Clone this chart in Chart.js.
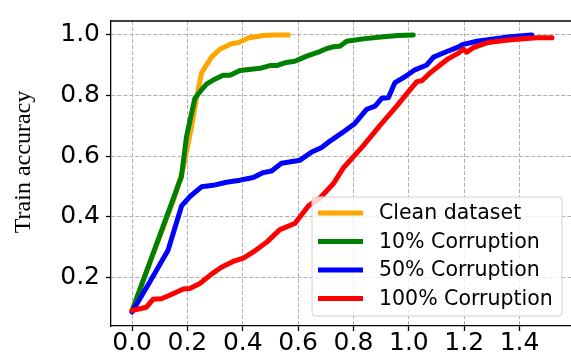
<!DOCTYPE html>
<html>
<head>
<meta charset="utf-8">
<script src="https://cdn.jsdelivr.net/npm/chart.js@4"></script>
<style>
html,body{margin:0;padding:0;background:#fff;overflow:hidden;}
#wrap{width:575px;height:360px;position:relative;}
</style>
</head>
<body>
<div id="wrap"><canvas id="trainChart"></canvas></div>
<script>
// values
const cleanX = [0, 0.05, 0.1, 0.15, 0.185, 0.215, 0.233, 0.251, 0.287, 0.317, 0.359, 0.383, 0.42, 0.474, 0.52, 0.565];
const cleanY = [0.09, 0.215, 0.335, 0.455, 0.561, 0.697, 0.791, 0.875, 0.927, 0.953, 0.971, 0.974, 0.99, 0.998, 1.0, 1.0];

const c10X = [0, 0.165, 0.178, 0.197, 0.227, 0.245, 0.269, 0.299, 0.329, 0.354, 0.39, 0.438, 0.462, 0.498, 0.522, 0.552, 0.588, 0.631, 0.673, 0.697, 0.727, 0.751, 0.775, 0.835, 0.908, 0.96, 1.016];
const c10Y = [0.09, 0.50, 0.53, 0.666, 0.791, 0.812, 0.838, 0.854, 0.867, 0.867, 0.883, 0.888, 0.89, 0.899, 0.899, 0.908, 0.913, 0.93, 0.943, 0.953, 0.961, 0.963, 0.979, 0.987, 0.994, 0.998, 1.0];

const c50X = [0, 0.064, 0.13, 0.179, 0.209, 0.251, 0.293, 0.341, 0.39, 0.438, 0.474, 0.504, 0.54, 0.607, 0.649, 0.685, 0.715, 0.757, 0.805, 0.848, 0.878, 0.902, 0.926, 0.95, 0.986, 1.022, 1.065, 1.089, 1.131, 1.173, 1.197, 1.246, 1.306, 1.366, 1.444];
const c50Y = [0.086, 0.185, 0.29, 0.436, 0.467, 0.499, 0.504, 0.514, 0.521, 0.53, 0.546, 0.551, 0.577, 0.587, 0.614, 0.629, 0.65, 0.676, 0.708, 0.755, 0.765, 0.791, 0.793, 0.843, 0.862, 0.885, 0.901, 0.927, 0.943, 0.958, 0.969, 0.979, 0.987, 0.994, 1.0];

const c100X = [0, 0.052, 0.076, 0.106, 0.154, 0.185, 0.209, 0.245, 0.287, 0.323, 0.365, 0.402, 0.444, 0.486, 0.534, 0.588, 0.637, 0.679, 0.727, 0.763, 0.835, 0.896, 0.956, 0.998, 1.029, 1.047, 1.077, 1.113, 1.143, 1.179, 1.197, 1.209, 1.233, 1.282, 1.342, 1.402, 1.463, 1.517];
const c100Y = [0.091, 0.102, 0.128, 0.13, 0.149, 0.162, 0.164, 0.18, 0.211, 0.234, 0.253, 0.264, 0.288, 0.316, 0.358, 0.378, 0.436, 0.462, 0.509, 0.561, 0.634, 0.702, 0.765, 0.812, 0.846, 0.849, 0.875, 0.901, 0.922, 0.94, 0.953, 0.943, 0.958, 0.974, 0.982, 0.987, 0.991, 0.991];

const seriesLabels = ['Clean dataset', '10% Corruption', '50% Corruption', '100% Corruption'];
const xTicks = [0.0, 0.2, 0.4, 0.6, 0.8, 1.0, 1.2, 1.4];
const yTicks = [0.2, 0.4, 0.6, 0.8, 1.0];
const yTitle = 'Train accuracy';

function pts(xs, ys) {
    return xs.map((x, i) => ({x: x, y: ys[i]}));
}

// legend drawn inside the plot, lower right, like matplotlib
const legendBox = {
    id: 'legendBox',
    afterDraw(chart) {
        const ctx = chart.ctx;
        const area = chart.chartArea;
        const w = 250, h = 119;
        const x = area.right - 11 - w;
        const y = area.bottom - 10 - h;
        ctx.save();
        ctx.globalAlpha = 0.8;
        ctx.fillStyle = '#fff';
        ctx.beginPath();
        ctx.roundRect(x, y, w, h, 3);
        ctx.fill();
        ctx.globalAlpha = 1;
        ctx.strokeStyle = '#d0d0d0';
        ctx.lineWidth = 1;
        ctx.stroke();
        ctx.font = '20.5px "DejaVu Sans"';
        ctx.textBaseline = 'middle';
        ctx.fillStyle = '#000';
        chart.data.datasets.forEach((ds, i) => {
            const cy = y + 16 + i * 28.5;
            ctx.strokeStyle = ds.borderColor;
            ctx.lineWidth = 5;
            ctx.beginPath();
            ctx.moveTo(x + 6, cy);
            ctx.lineTo(x + 51, cy);
            ctx.stroke();
            ctx.fillText(ds.label, x + 67, cy + 1);
        });
        ctx.restore();
    }
};

// top spine + rotated y title
const frameAndTitle = {
    id: 'frameAndTitle',
    afterDraw(chart) {
        const ctx = chart.ctx;
        const a = chart.chartArea;
        ctx.save();
        ctx.strokeStyle = '#000';
        ctx.lineWidth = 1.3;
        ctx.beginPath();
        ctx.moveTo(a.left, a.top);
        ctx.lineTo(a.right, a.top);
        ctx.stroke();

        ctx.translate(29.5, 162);
        ctx.rotate(-Math.PI / 2);
        ctx.font = '24px "Liberation Serif"';
        ctx.fillStyle = '#000';
        ctx.textAlign = 'center';
        ctx.textBaseline = 'alphabetic';
        ctx.fillText(yTitle, 0, 0);
        ctx.restore();
    }
};

const colors = ['#FFA500', '#008000', '#0000FF', '#FF0000'];
const xsAll = [cleanX, c10X, c50X, c100X];
const ysAll = [cleanY, c10Y, c50Y, c100Y];

const datasets = seriesLabels.map((lab, i) => ({
    label: lab,
    data: pts(xsAll[i], ysAll[i]),
    borderColor: colors[i],
    backgroundColor: colors[i],
    borderWidth: 5,
    pointRadius: 0,
    tension: 0,
    borderJoinStyle: 'round',
    borderCapStyle: 'round',
    fill: false,
    order: 3 - i
}));

const tickFont = {family: '"DejaVu Sans"', size: 25};

new Chart(document.getElementById('trainChart'), {
    type: 'line',
    data: {datasets: datasets},
    options: {
        responsive: true,
        maintainAspectRatio: false,
        animation: false,
        layout: {padding: {left: 0, top: 5, right: 2, bottom: 0}},
        plugins: {
            legend: {display: false},
            tooltip: {enabled: false}
        },
        scales: {
            x: {
                type: 'linear',
                min: -0.076,
                max: 1.593,
                afterBuildTicks: (axis) => { axis.ticks = xTicks.map(v => ({value: v})); },
                afterFit: (axis) => { axis.height = 34; },
                ticks: {
                    color: '#000',
                    font: tickFont,
                    padding: -3,
                    maxRotation: 0,
                    callback: (v) => Number(v).toFixed(1)
                },
                grid: {
                    color: '#b0b0b0',
                    lineWidth: 1,
                    tickColor: '#000',
                    tickLength: 5,
                    tickWidth: 1.3
                },
                border: {display: true, color: '#000', width: 1.3, dash: [4, 2]}
            },
            y: {
                type: 'linear',
                min: 0.04,
                max: 1.046,
                afterBuildTicks: (axis) => { axis.ticks = yTicks.map(v => ({value: v})); },
                afterFit: (axis) => { axis.width = 111; },
                ticks: {
                    color: '#000',
                    font: tickFont,
                    padding: 6,
                    callback: (v) => Number(v).toFixed(1)
                },
                grid: {
                    color: '#b0b0b0',
                    lineWidth: 1,
                    tickColor: '#000',
                    tickLength: 5,
                    tickWidth: 1.3
                },
                border: {display: true, color: '#000', width: 1.3, dash: [4, 2]}
            }
        }
    },
    plugins: [legendBox, frameAndTitle]
});
</script>
</body>
</html>
